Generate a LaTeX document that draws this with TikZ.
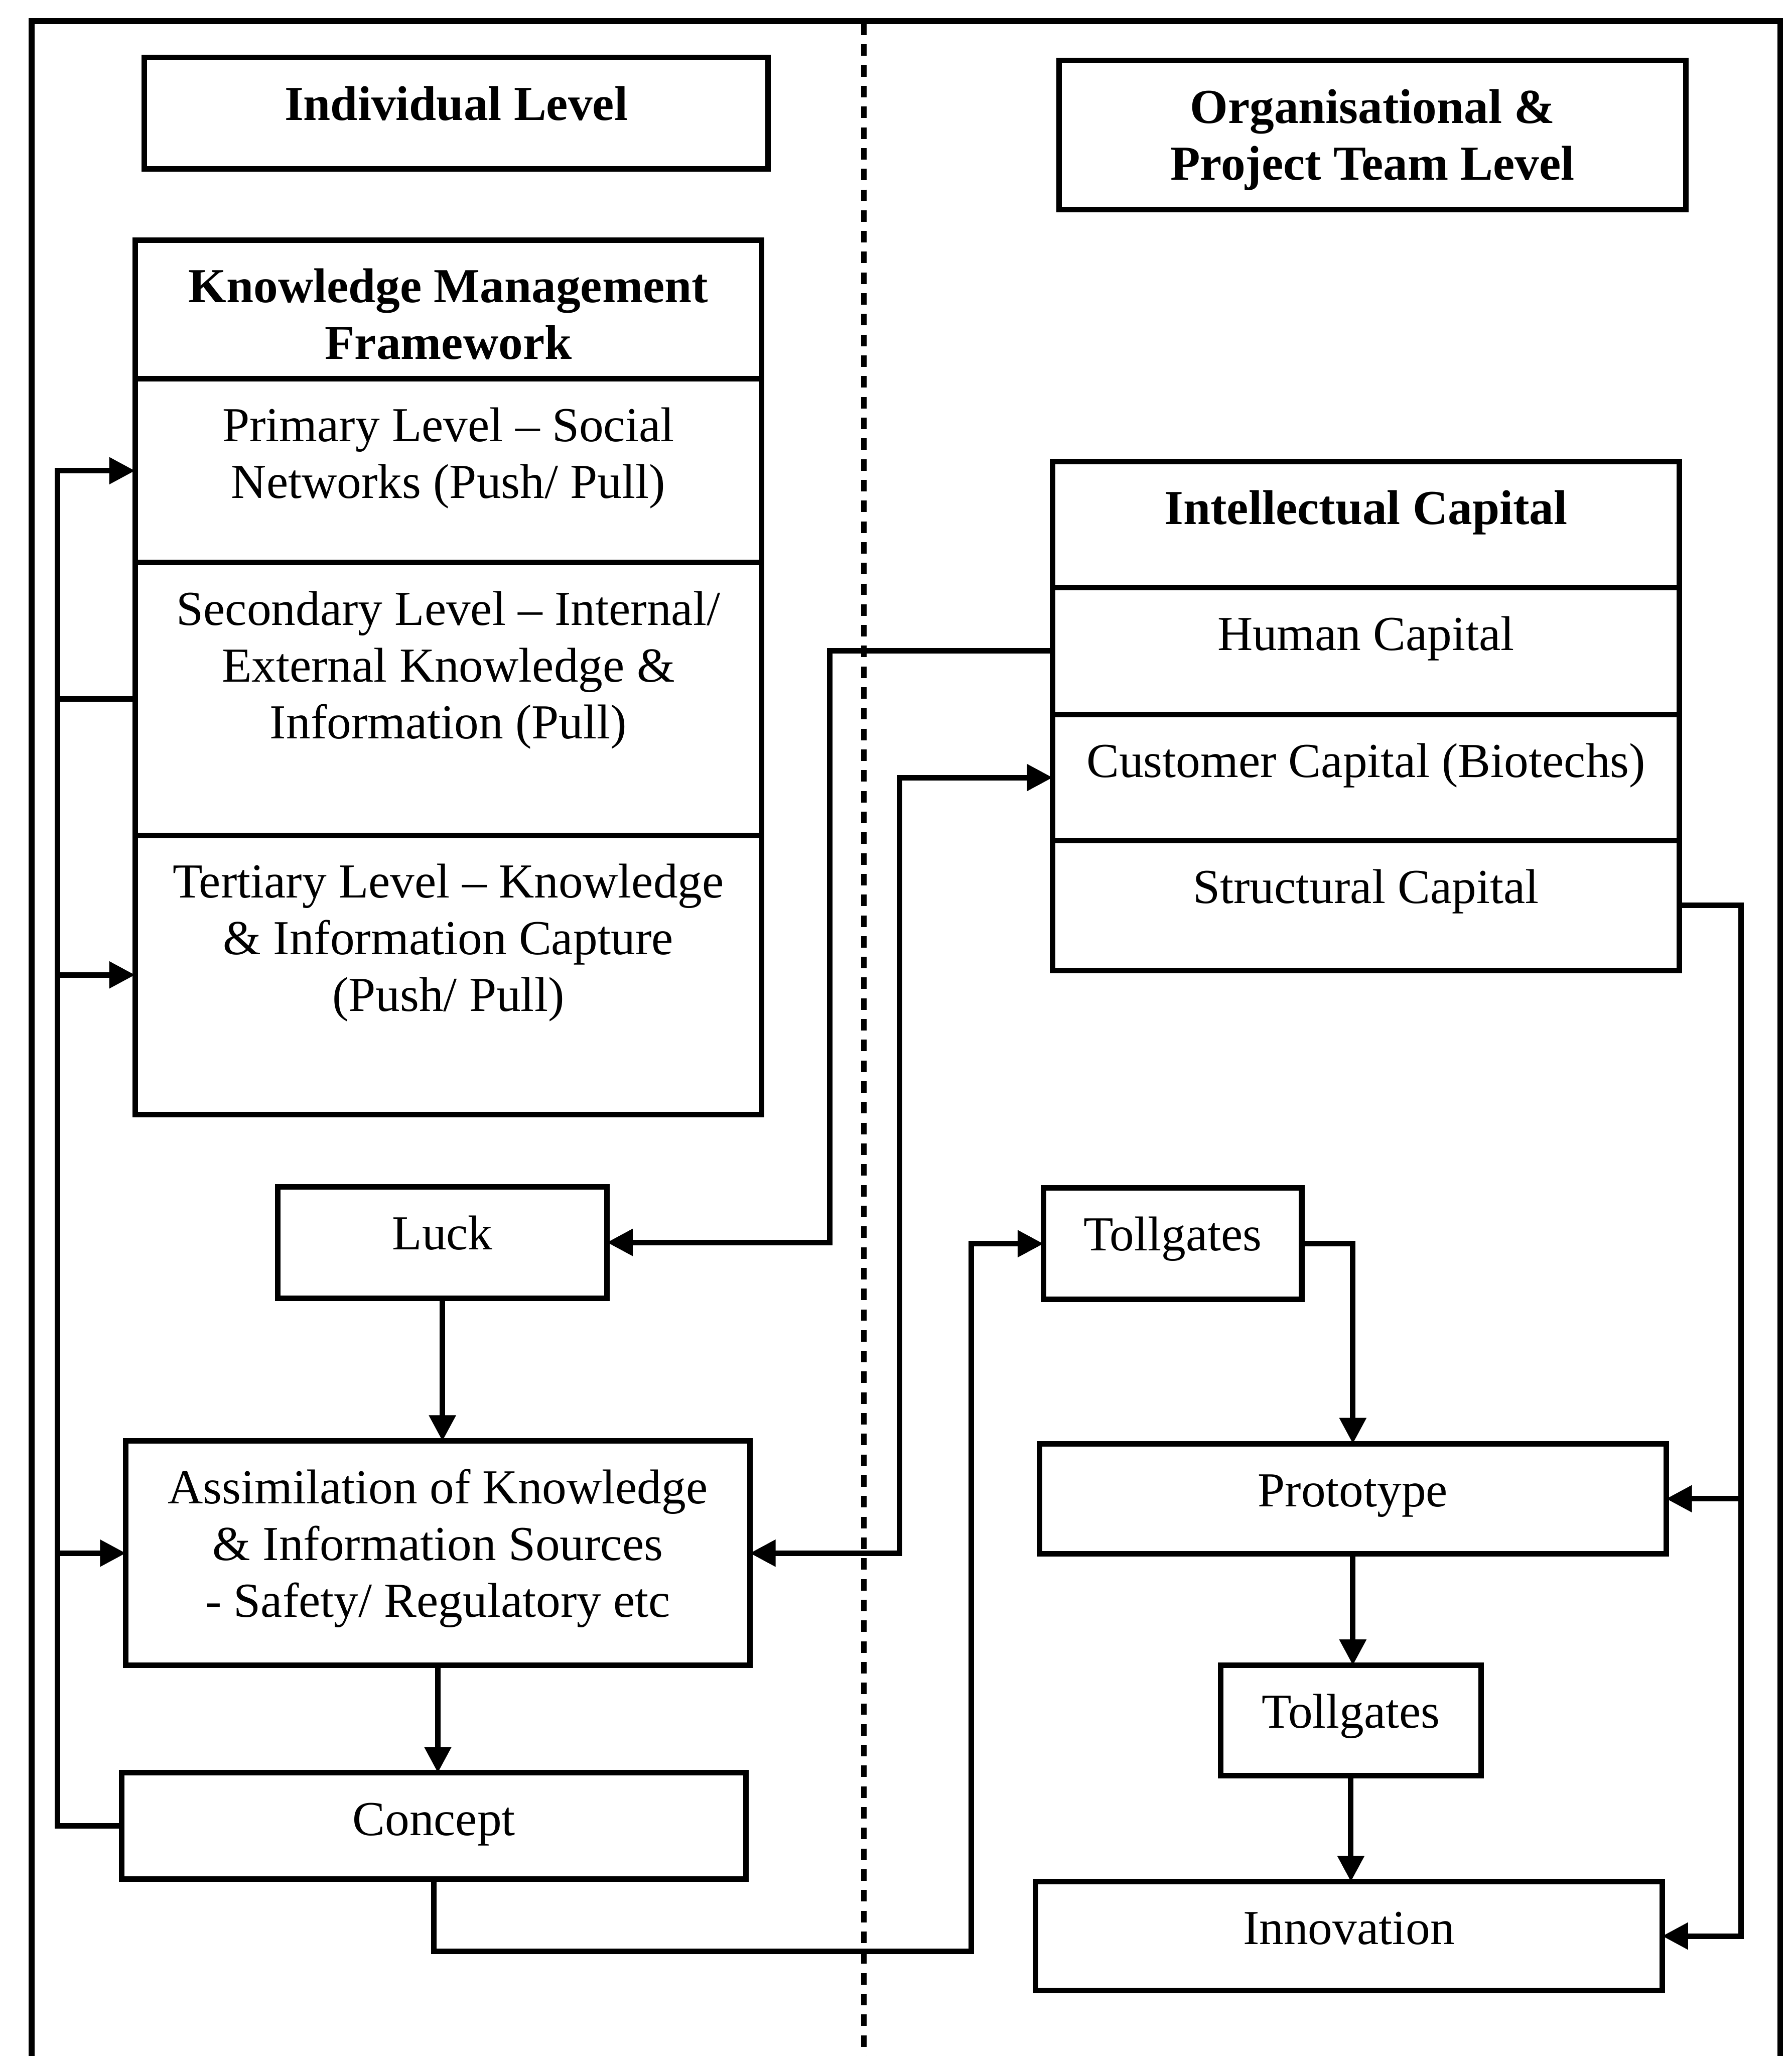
\documentclass[tikz,border=0pt]{standalone}
\usepackage{fontspec}
\setmainfont{Liberation Serif}
\usetikzlibrary{arrows.meta}
\usetikzlibrary{calc}

% cell of fixed size, text set from the top
\newcommand{\cell}[3]{\parbox[c][#2][t]{#1}{\centering\vspace*{5pt}\strut#3}}

\begin{document}
\begin{tikzpicture}[font=\fontsize{10.6}{12.3}\selectfont,
    box/.style={draw, line width=1.2pt, inner sep=0pt, outer sep=0pt},
    link/.style={line width=1.2pt},
    arr/.style={link, -{Triangle[length=5.6pt,width=5.6pt]}},
    arrboth/.style={link, {Triangle[length=5.6pt,width=5.6pt]}-{Triangle[length=5.6pt,width=5.6pt]}}]
        \useasboundingbox (0,0) rectangle (13.67,-15.68);

        % frame and divider
        \draw[line width=1.3pt] (0.24,-15.68) -- (0.24,-0.16) -- (13.58,-0.16) -- (13.58,-15.68);
        \draw[line width=1.1pt, dash pattern=on 2.5pt off 2pt] (6.59,-0.18) -- (6.59,-15.68);

        % level headings
        \node[box] (indiv) at (3.48,-0.865) {\cell{4.76cm}{0.85cm}{\textbf{Individual Level}}};
        \node[box] (org) at (10.47,-1.03) {\cell{4.78cm}{1.14cm}{\textbf{Organisational \&\\Project Team Level}}};

        % knowledge management framework
        \node[box, anchor=north] (kmf) at (3.42,-1.83) {\cell{4.78cm}{1.06cm}{\textbf{Knowledge Management\\Framework}}};
        \node[box, anchor=north] (primary) at (kmf.south) {\cell{4.78cm}{1.40cm}{Primary Level – Social\\Networks (Push/ Pull)}};
        \node[box, anchor=north] (secondary) at (primary.south) {\cell{4.78cm}{2.08cm}{Secondary Level – Internal/\\External Knowledge \&\\Information (Pull)}};
        \node[box, anchor=north] (tertiary) at (secondary.south) {\cell{4.78cm}{2.13cm}{Tertiary Level – Knowledge\\\& Information Capture\\(Push/ Pull)}};

        % intellectual capital
        \node[box, anchor=north] (ic) at (10.42,-3.52) {\cell{4.78cm}{0.96cm}{\textbf{Intellectual Capital}}};
        \node[box, anchor=north] (human) at (ic.south) {\cell{4.78cm}{0.97cm}{Human Capital}};
        \node[box, anchor=north] (customer) at (human.south) {\cell{4.78cm}{0.96cm}{Customer Capital (Biotechs)}};
        \node[box, anchor=north] (structural) at (customer.south) {\cell{4.78cm}{0.99cm}{Structural Capital}};

        % left flow
        \node[box] (luck) at (3.375,-9.475) {\cell{2.51cm}{0.85cm}{Luck}};
        \node[box] (assim) at (3.34,-11.845) {\cell{4.76cm}{1.71cm}{Assimilation of Knowledge\\\& Information Sources\\- Safety/ Regulatory etc}};
        \node[box] (concept) at (3.31,-13.925) {\cell{4.76cm}{0.81cm}{Concept}};

        % right flow
        \node[box] (tgone) at (8.945,-9.485) {\cell{1.97cm}{0.85cm}{Tollgates}};
        \node[box] (proto) at (10.32,-11.43) {\cell{4.78cm}{0.84cm}{Prototype}};
        \node[box] (tgtwo) at (10.305,-13.12) {\cell{1.99cm}{0.84cm}{Tollgates}};
        \node[box] (innov) at (10.29,-14.765) {\cell{4.78cm}{0.83cm}{Innovation}};

        % feedback bus on the left
        \draw[arr] (concept.west) -- ++(-0.49,0) coordinate (lbus) |- (primary.west);
        \draw[link] (secondary.west) -- (secondary.west -| lbus);
        \draw[arr] (tertiary.west -| lbus) -- (tertiary.west);
        \draw[arr] (assim.west -| lbus) -- (assim.west);

        \draw[arr] (human.west) -- ++(-1.70,0) |- (luck.east);
        \draw[arrboth] (assim.east) -- ++(1.14,0) |- (customer.west);

        \draw[arr] (luck.south) -- (luck.south |- assim.north);
        \draw[arr] (assim.south) -- (assim.south |- concept.north);

        \coordinate (cbus) at (7.41,-14.88);
        \draw[arr] (concept.south) |- (cbus) |- (tgone.west);

        \draw[arr] (tgone.east) -| (proto.north);
        \draw[arr] (proto.south) -- (proto.south |- tgtwo.north);
        \draw[arr] (tgtwo.south) -- (tgtwo.south |- innov.north);

        \draw[arr] (structural.east) -- ++(0.47,0) coordinate (rbus) |- (innov.east);
        \draw[arr] (proto.east -| rbus) -- (proto.east);
    \end{tikzpicture}
\end{document}
